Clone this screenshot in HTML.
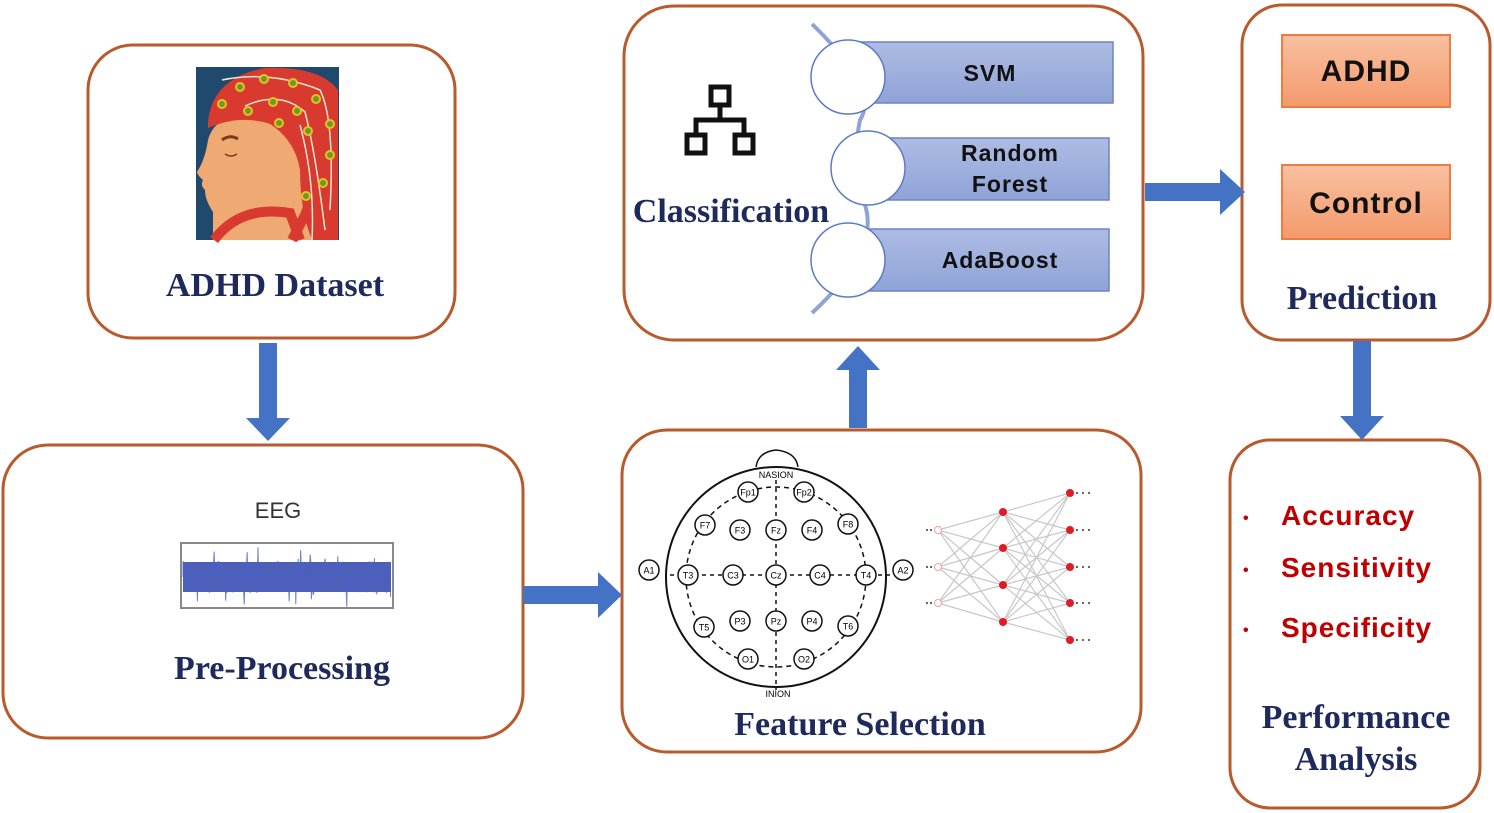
<!DOCTYPE html>
<html><head><meta charset="utf-8"><style>
html,body{margin:0;padding:0;background:#fff;}
svg{display:block;}
.t{font-family:"Liberation Serif",serif;font-weight:bold;fill:#1f2a5c;}
.s{font-family:"Liberation Sans",sans-serif;font-weight:bold;}
</style></head><body>
<svg id="s" width="1494" height="813" viewBox="0 0 1494 813" xmlns="http://www.w3.org/2000/svg">
<defs>
<linearGradient id="bar" x1="0" y1="0" x2="0" y2="1"><stop offset="0" stop-color="#aebce4"/><stop offset="1" stop-color="#8fa3d6"/></linearGradient>
<linearGradient id="or" x1="0" y1="0" x2="0" y2="1"><stop offset="0" stop-color="#f8c0a0"/><stop offset="1" stop-color="#f49a6c"/></linearGradient>
</defs>
<g fill="none" stroke="#b85a2c" stroke-width="3">
<rect x="88" y="45" width="367" height="293" rx="45"/>
<rect x="3" y="445" width="520" height="293" rx="45"/>
<rect x="624" y="6" width="519" height="334" rx="50"/>
<rect x="622" y="430" width="519" height="322" rx="45"/>
<rect x="1242" y="5" width="248" height="335" rx="40"/>
<rect x="1230" y="440" width="250" height="368" rx="40"/>
</g>
<g fill="#4472c4">
<polygon points="259,343 277,343 277,418 290,418 268,441 246,418 259,418"/>
<polygon points="523,586 598,586 598,572 622,595 598,618 598,604 523,604"/>
<polygon points="849,428 867,428 867,370 880,370 858,346 836,370 849,370"/>
<polygon points="1145,183 1220,183 1220,169 1245,192 1220,215 1220,201 1145,201"/>
<polygon points="1353,341 1371,341 1371,416 1384,416 1362,440 1340,416 1353,416"/>
</g>
<!-- head image -->
<g>
<rect x="196" y="67" width="143" height="173" fill="#1f4a6e"/>
<path d="M213,240 L213,212 Q205,200 205,190 Q200,185 203,180 Q198,176 197,172 Q205,160 208,140 Q212,125 225,120 Q260,112 290,122 Q320,150 338,170 L338,240 Z" fill="#eeaa72"/>
<path d="M208,122 Q212,78 265,68 Q320,66 338,90 L338,240 L312,240 Q300,210 300,170 Q295,140 270,124 Q240,114 208,128 Z" fill="#d93a2f"/>
<path d="M214,240 Q240,205 290,213 L300,240" fill="none" stroke="#d93a2f" stroke-width="10"/>
<path d="M300,140 Q320,180 305,215 L292,240" fill="none" stroke="#d93a2f" stroke-width="10"/>
<path d="M222,140 Q230,134 238,139" stroke="#7a3b1a" stroke-width="3" fill="none"/>
<path d="M225,154 Q231,158 237,154" stroke="#7a3b1a" stroke-width="1.5" fill="none"/>
<path d="M222,80 Q270,70 320,90 Q335,120 330,210 M245,106 Q280,90 305,112 Q315,150 325,230 M300,125 Q315,180 312,240" stroke="#f3e6d0" stroke-width="1.5" fill="none"/>
<g fill="#6a9a2a" stroke="#e8c020" stroke-width="2">
<circle cx="222" cy="104" r="4"/><circle cx="240" cy="87" r="4"/><circle cx="264" cy="79" r="4"/><circle cx="293" cy="83" r="4"/><circle cx="316" cy="99" r="4"/><circle cx="330" cy="124" r="4"/><circle cx="330" cy="155" r="4"/><circle cx="323" cy="183" r="4"/><circle cx="306" cy="196" r="4"/>
<circle cx="248" cy="111" r="4"/><circle cx="273" cy="102" r="4"/><circle cx="297" cy="111" r="4"/><circle cx="308" cy="131" r="4"/><circle cx="279" cy="123" r="4"/>
</g>
</g>
<text class="t" x="275" y="296" font-size="34" text-anchor="middle">ADHD Dataset</text>
<text x="278" y="518" font-family="Liberation Sans, sans-serif" font-size="22" fill="#333" text-anchor="middle">EEG</text>
<rect x="181" y="543" width="212" height="65" fill="#fff" stroke="#888" stroke-width="2"/>
<g id="eeg"></g>
<text class="t" x="282" y="679" font-size="34" text-anchor="middle">Pre-Processing</text>
<g transform="translate(685,85)" fill="none" stroke="#111" stroke-width="5">
<rect x="26" y="2" width="18" height="18"/><rect x="2" y="50" width="18" height="18"/><rect x="50" y="50" width="18" height="18"/>
<path d="M35,20 V35 M11,50 V35 H59 V50"/>
</g>
<text class="t" x="731" y="222" font-size="34" text-anchor="middle">Classification</text>
<path d="M812,24 Q880,90 860,120 Q850,170 865,205 Q880,250 812,313" fill="none" stroke="#8fa3d6" stroke-width="4"/>
<g stroke="#6c84c4" stroke-width="1.5" fill="url(#bar)">
<rect x="845" y="42" width="268" height="61"/>
<rect x="870" y="138" width="239" height="62"/>
<rect x="850" y="229" width="259" height="62"/>
</g>
<g fill="#fff" stroke="#5b7bc9" stroke-width="1.5">
<circle cx="848" cy="77" r="37"/><circle cx="868" cy="168" r="37"/><circle cx="848" cy="260" r="37"/>
</g>
<g class="s" font-size="23" fill="#111" text-anchor="middle" letter-spacing="1">
<text x="990" y="81">SVM</text>
<text x="1010" y="161">Random</text><text x="1010" y="192">Forest</text>
<text x="1000" y="268">AdaBoost</text>
</g>
<rect x="1282" y="35" width="168" height="72" fill="url(#or)" stroke="#ec7c44" stroke-width="2"/>
<rect x="1282" y="165" width="168" height="74" fill="url(#or)" stroke="#ec7c44" stroke-width="2"/>
<g class="s" font-size="30" fill="#111" text-anchor="middle" letter-spacing="1">
<text x="1366" y="81">ADHD</text><text x="1366" y="213">Control</text>
</g>
<text class="t" x="1362" y="309" font-size="34" text-anchor="middle">Prediction</text>
<g class="s" font-size="28" fill="#c00000" letter-spacing="1">
<text x="1243" y="523" font-size="16">•</text><text x="1281" y="525">Accuracy</text>
<text x="1243" y="575" font-size="16">•</text><text x="1281" y="577">Sensitivity</text>
<text x="1243" y="635" font-size="16">•</text><text x="1281" y="637">Specificity</text>
</g>
<text class="t" x="1356" y="728" font-size="34" text-anchor="middle">Performance</text>
<text class="t" x="1356" y="770" font-size="34" text-anchor="middle">Analysis</text>
<path d="M756,467 Q758,452 776,450 Q796,452 798,467" fill="none" stroke="#111" stroke-width="1.5"/>
<circle cx="776" cy="577" r="110" fill="none" stroke="#111" stroke-width="2"/>
<circle cx="776" cy="577" r="90" fill="none" stroke="#111" stroke-width="1.5" stroke-dasharray="5,4"/>
<path d="M776,480 V690 M670,575 H890" stroke="#111" stroke-width="1.5" stroke-dasharray="4,4"/>
<text x="776" y="478" font-family="Liberation Sans,sans-serif" font-size="9" text-anchor="middle">NASION</text>
<text x="778" y="697" font-family="Liberation Sans,sans-serif" font-size="9" text-anchor="middle">INION</text>
<g id="el"></g>
<g id="nn"></g>
<text class="t" x="860" y="735" font-size="34" text-anchor="middle">Feature Selection</text>
</svg>
<script>
var NS="http://www.w3.org/2000/svg";
function mk(p,t,a){var e=document.createElementNS(NS,t);for(var k in a)e.setAttribute(k,a[k]);p.appendChild(e);return e;}
var g=document.getElementById("eeg");var seed=7;function r(){seed=(seed*16807)%2147483647;return seed/2147483647;}
mk(g,"rect",{x:183,y:562,width:208,height:30,fill:"#3a4fb0",opacity:"0.9"});
var d="M183,577";for(var x=183;x<391;x+=0.6){var a=(r()-0.5)*2;var amp=16+(r()<0.06?14:0);d+=" L"+x.toFixed(1)+","+(577+a*amp).toFixed(1);}
mk(g,"path",{d:d,fill:"none",stroke:"#4a5fc0","stroke-width":"1",opacity:"0.8"});
var el=[["Fp1",748,492],["Fp2",804,492],["F7",705,525],["F3",740,530],["Fz",776,530],["F4",812,530],["F8",848,524],["A1",649,570],["T3",688,575],["C3",733,575],["Cz",776,575],["C4",820,575],["T4",866,575],["A2",903,570],["T5",704,627],["P3",740,621],["Pz",776,621],["P4",812,621],["T6",848,626],["O1",748,659],["O2",804,659]];
var ge=document.getElementById("el");
el.forEach(function(e){mk(ge,"circle",{cx:e[1],cy:e[2],r:10,fill:"#fff",stroke:"#111","stroke-width":1.5});var t=mk(ge,"text",{x:e[1],y:e[2]+3.5,"font-family":"Liberation Sans,sans-serif","font-size":"9","text-anchor":"middle"});t.textContent=e[0];});
var gn=document.getElementById("nn");
var I=[530,567,603].map(function(y){return[938,y]}),H=[512,548,585,622].map(function(y){return[1003,y]}),O=[493,530,567,603,640].map(function(y){return[1070,y]});
function link(A,B){A.forEach(function(p){B.forEach(function(q){mk(gn,"line",{x1:p[0],y1:p[1],x2:q[0],y2:q[1],stroke:"#c8c8c8","stroke-width":1.2});});});}
link(I,H);link(H,O);
I.forEach(function(p){mk(gn,"line",{x1:926,y1:p[1],x2:934,y2:p[1],stroke:"#333","stroke-width":1.5,"stroke-dasharray":"2,2"});mk(gn,"circle",{cx:p[0],cy:p[1],r:3.5,fill:"#fff",stroke:"#f0a0a0"});});
H.forEach(function(p){mk(gn,"circle",{cx:p[0],cy:p[1],r:4,fill:"#e01b24"});});
O.forEach(function(p){mk(gn,"circle",{cx:p[0],cy:p[1],r:4,fill:"#e01b24"});mk(gn,"line",{x1:1076,y1:p[1],x2:1090,y2:p[1],stroke:"#333","stroke-width":1.5,"stroke-dasharray":"2,4"});});
</script>
</body></html>
